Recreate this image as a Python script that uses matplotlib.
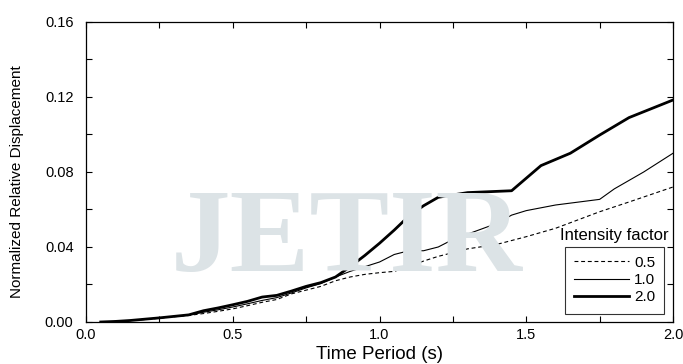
import matplotlib.pyplot as plt
from matplotlib.ticker import MultipleLocator

# Data
x_05 = [0.05, 0.1, 0.15, 0.2, 0.25, 0.3, 0.35, 0.4, 0.45, 0.5, 0.55, 0.6, 0.65, 0.7, 0.75,
        0.8, 0.85, 0.9, 0.95, 1.0, 1.05, 1.1, 1.15, 1.2, 1.3, 1.4, 1.5, 1.6, 1.75, 1.85, 2.0]
y_05 = [0.0, 0.0003, 0.0007, 0.0013, 0.002, 0.0028, 0.0035, 0.0045, 0.0057, 0.007, 0.0087,
        0.0105, 0.012, 0.015, 0.017, 0.019, 0.022, 0.024, 0.0254, 0.0263, 0.027, 0.0295,
        0.0325, 0.035, 0.039, 0.0414, 0.0455, 0.050, 0.0588, 0.064, 0.072]

x_10 = [0.05, 0.1, 0.15, 0.2, 0.25, 0.3, 0.35, 0.4, 0.45, 0.5, 0.55, 0.6, 0.65, 0.7, 0.75,
        0.8, 0.85, 0.9, 0.95, 1.0, 1.05, 1.1, 1.15, 1.2, 1.25, 1.4, 1.45, 1.5, 1.6, 1.75,
        1.8, 1.9, 2.0]
y_10 = [0.0, 0.0003, 0.0008, 0.0015, 0.0022, 0.003, 0.0037, 0.0052, 0.0065, 0.008, 0.0097,
        0.0115, 0.013, 0.0155, 0.0182, 0.0205, 0.024, 0.027, 0.0295, 0.032, 0.036, 0.038,
        0.038, 0.040, 0.044, 0.0526, 0.057, 0.0594, 0.0624, 0.0654, 0.071, 0.080, 0.090]

x_20 = [0.05, 0.1, 0.15, 0.2, 0.25, 0.3, 0.35, 0.4, 0.45, 0.5, 0.55, 0.6, 0.65, 0.7, 0.75,
        0.8, 0.85, 0.9, 0.95, 1.0, 1.05, 1.1, 1.15, 1.2, 1.3, 1.45, 1.55, 1.65, 1.75, 1.85, 2.0]
y_20 = [0.0, 0.0003, 0.0008, 0.0015, 0.0022, 0.003, 0.0038, 0.006, 0.0075, 0.0092, 0.011,
        0.0133, 0.0142, 0.0165, 0.019, 0.021, 0.024, 0.0295, 0.0355, 0.042, 0.049, 0.0565,
        0.062, 0.0665, 0.069, 0.070, 0.0834, 0.090, 0.0997, 0.109, 0.1184]

labels = ["0.5", "1.0", "2.0"]

plt.rcParams['font.family'] = ['Liberation Sans', 'DejaVu Sans']

fig = plt.figure(figsize=(6.83, 3.64), dpi=100)
ax = fig.add_axes([0.126, 0.1154, 0.8594, 0.8242])

# watermark
fig.text(0.508, 0.335, "JETIR", family='Liberation Serif', fontweight='bold',
         fontsize=86, color='#dce3e6', ha='center', va='center', zorder=0)
ax.patch.set_alpha(0)

ax.plot(x_05, y_05, color='black', lw=0.8, ls=(0, (3.5, 2.5)), label=labels[0])
ax.plot(x_10, y_10, color='black', lw=0.8, label=labels[1])
ax.plot(x_20, y_20, color='black', lw=2.0, label=labels[2])

ax.set_xlim(0, 2.0)
ax.set_ylim(0, 0.16)
ax.xaxis.set_major_locator(MultipleLocator(0.5))
ax.xaxis.set_minor_locator(MultipleLocator(0.25))
ax.yaxis.set_major_locator(MultipleLocator(0.04))
ax.yaxis.set_minor_locator(MultipleLocator(0.02))
ax.xaxis.set_major_formatter(plt.FormatStrFormatter('%.1f'))
ax.yaxis.set_major_formatter(plt.FormatStrFormatter('%.2f'))
ax.tick_params(which='both', direction='in', top=True, right=True, width=0.8)
ax.tick_params(which='major', length=4, labelsize=10.5)
ax.tick_params(which='minor', length=4)
ax.tick_params(axis='x', which='major', pad=4)
ax.tick_params(axis='y', which='major', pad=9)
for s in ax.spines.values():
    s.set_linewidth(0.9)

ax.set_xlabel("Time Period (s)", fontsize=13.5, labelpad=3)
ax.set_ylabel("Normalized Relative Displacement", fontsize=11)
ax.yaxis.set_label_coords(-0.106, 0.467)

leg = ax.legend(loc='lower right', bbox_to_anchor=(0.985, 0.028), borderaxespad=0,
                fancybox=False, edgecolor='black', fontsize=11, handlelength=3.6,
                handletextpad=0.3, labelspacing=0.22, borderpad=0.6)
leg.get_frame().set_linewidth(0.8)
ax.text(0.993, 0.287, "Intensity factor", transform=ax.transAxes, ha='right',
        va='center', fontsize=12)

fig.savefig("out.png", dpi=100)
